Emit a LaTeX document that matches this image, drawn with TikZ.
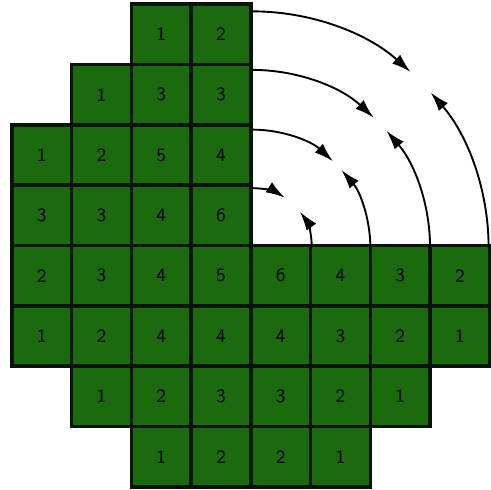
\documentclass[tikz,border=0pt]{standalone}
\usepackage{tikz}
\usetikzlibrary{arrows.meta,positioning}
\definecolor{cellGreen}{RGB}{28,106,14}
\definecolor{cellLine}{RGB}{8,20,6}
\tikzset{
  gridcell/.style={rectangle, draw=cellLine, fill=cellGreen, line width=1.7pt,
    minimum width=1cm, minimum height=1.01cm, inner sep=0pt,
    font=\sffamily\small, text=black},
  arcarrow/.style={-{Latex[length=3.2mm,width=2mm]}, draw=black, line width=0.9pt},
}
\begin{document}
\begin{tikzpicture}[x=1cm,y=1.01cm]
  \useasboundingbox (0,0) rectangle (8.22,8.12);

  % --- cells: row / first column / values ---
  \foreach \r/\c/\vals in {1/3/{1,2}, 2/2/{1,3,3}, 3/1/{1,2,5,4}, 4/1/{3,3,4,6},
      5/1/{2,3,4,5,6,4,3,2}, 6/1/{1,2,4,4,4,3,2,1}, 7/2/{1,2,3,3,2,1}, 8/3/{1,2,2,1}}{
    \foreach \v [count=\k from 0] in \vals {
      \pgfmathtruncatemacro{\col}{\c+\k}
      \node[gridcell] (cell-\r-\col) at (\col-0.3, 8.55-\r) {\v};
    }
  }

  % --- quarter turns into the empty quadrant ---
  \coordinate (pivot) at (cell-4-4.south east);
  \foreach \rad/\a/\b in {3.95/48/41, 2.97/47/41, 1.97/47/41, 0.99/57/37}{
    \draw[arcarrow] (pivot) ++(90:\rad cm) arc[start angle=90, end angle=\a, radius=\rad cm];
    \draw[arcarrow] (pivot) ++(0:\rad cm) arc[start angle=0, end angle=\b, radius=\rad cm];
  }
\end{tikzpicture}
\end{document}
